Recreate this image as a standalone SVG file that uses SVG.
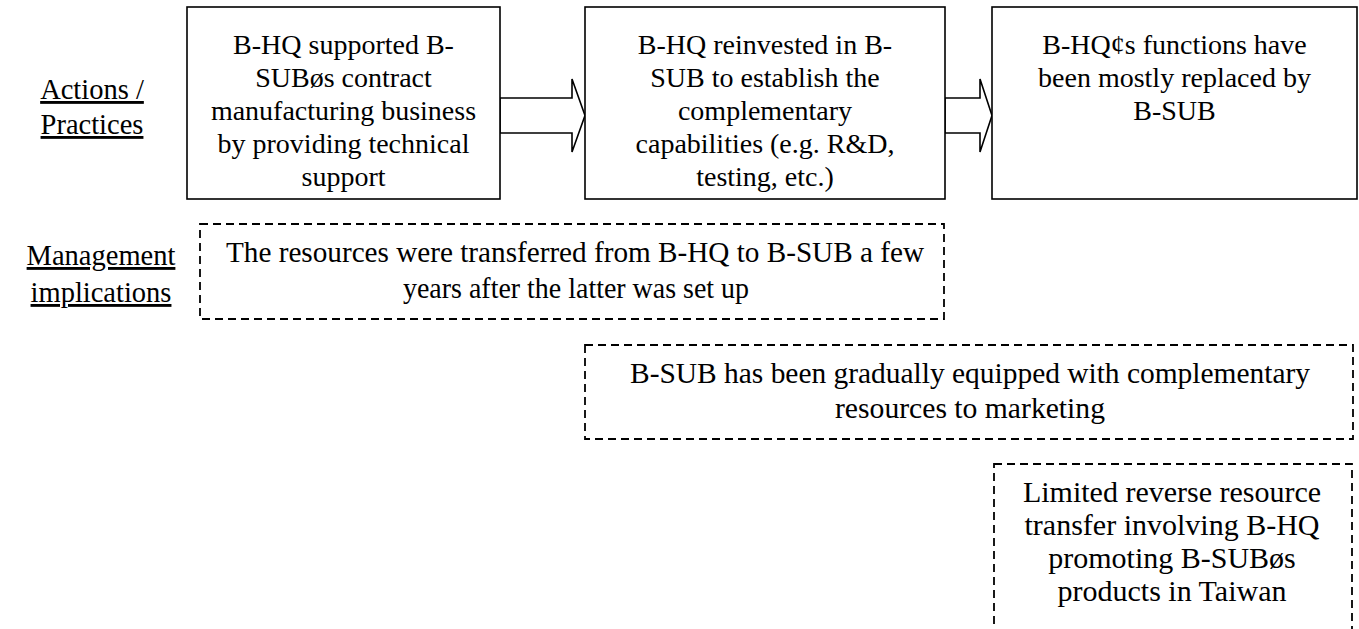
<svg xmlns="http://www.w3.org/2000/svg" width="1359" height="629" viewBox="0 0 1359 629">
  <style>
    text { font-family: "Liberation Serif", "Times New Roman", serif; fill: #000; }
    .t { font-size: 28px; text-anchor: middle; }
    .d { font-size: 30px; text-anchor: middle; }
    .s { font-size: 30px; text-anchor: middle; }
    .lbl { font-size: 28.5px; text-anchor: middle; text-decoration: underline; }
    .box { fill: #fff; stroke: #000; stroke-width: 1.6; }
    .dash { fill: none; stroke: #000; stroke-width: 1.8; stroke-dasharray: 8 5; }
    .arrow { fill: #fff; stroke: #000; stroke-width: 1.6; stroke-linejoin: miter; }
  </style>
  <rect width="1359" height="629" fill="#fff"/>

  <!-- row labels -->
  <g id="label-actions">
    <text class="lbl" x="92" y="99">Actions /</text>
    <text class="lbl" x="92" y="134">Practices</text>
  </g>
  <g id="label-management">
    <text class="lbl" x="101" y="265">Management</text>
    <text class="lbl" x="101" y="302">implications</text>
  </g>

  <!-- block arrows between stages -->
  <g id="connectors">
    <polygon class="arrow" points="500,98 572,98 572,79 585,115.5 572,152 572,133 500,133"/>
    <polygon class="arrow" points="945,98 980,98 980,79 992,115.5 980,152 980,133 945,133"/>
  </g>

  <g id="stage-1">
    <rect class="box" x="187" y="7" width="313" height="192"/>
    <text class="t" x="343.5" y="54">B-HQ supported B-</text>
    <text class="t" x="343.5" y="87">SUBøs contract</text>
    <text class="t" x="343.5" y="120">manufacturing business</text>
    <text class="t" x="343.5" y="153">by providing technical</text>
    <text class="t" x="343.5" y="186">support</text>
  </g>

  <g id="stage-2">
    <rect class="box" x="585" y="7" width="360" height="192"/>
    <text class="t" x="765" y="54">B-HQ reinvested in B-</text>
    <text class="t" x="765" y="87">SUB to establish the</text>
    <text class="t" x="765" y="120">complementary</text>
    <text class="t" x="765" y="153">capabilities (e.g. R&amp;D,</text>
    <text class="t" x="765" y="186">testing, etc.)</text>
  </g>

  <g id="stage-3">
    <rect class="box" x="992" y="7" width="365" height="192"/>
    <text class="t" x="1174.5" y="54">B-HQ¢s functions have</text>
    <text class="t" x="1174.5" y="87">been mostly replaced by</text>
    <text class="t" x="1174.5" y="120">B-SUB</text>
  </g>

  <g id="implication-1">
    <rect class="dash" x="200" y="224" width="744" height="95"/>
    <text class="d" x="575" y="262" textLength="698" lengthAdjust="spacingAndGlyphs">The resources were transferred from B-HQ to B-SUB a few</text>
    <text class="d" x="576" y="298" textLength="346" lengthAdjust="spacingAndGlyphs">years after the latter was set up</text>
  </g>

  <g id="implication-2">
    <rect class="dash" x="585" y="345" width="768" height="94"/>
    <text class="d" x="970" y="383" textLength="680" lengthAdjust="spacingAndGlyphs">B-SUB has been gradually equipped with complementary</text>
    <text class="d" x="970" y="418" textLength="270" lengthAdjust="spacingAndGlyphs">resources to marketing</text>
  </g>

  <g id="implication-3">
    <rect class="dash" x="994" y="464" width="358" height="190"/>
    <text class="s" x="1172" y="502">Limited reverse resource</text>
    <text class="s" x="1172" y="535">transfer involving B-HQ</text>
    <text class="s" x="1172" y="568">promoting B-SUBøs</text>
    <text class="s" x="1172" y="601">products in Taiwan</text>
  </g>
</svg>
